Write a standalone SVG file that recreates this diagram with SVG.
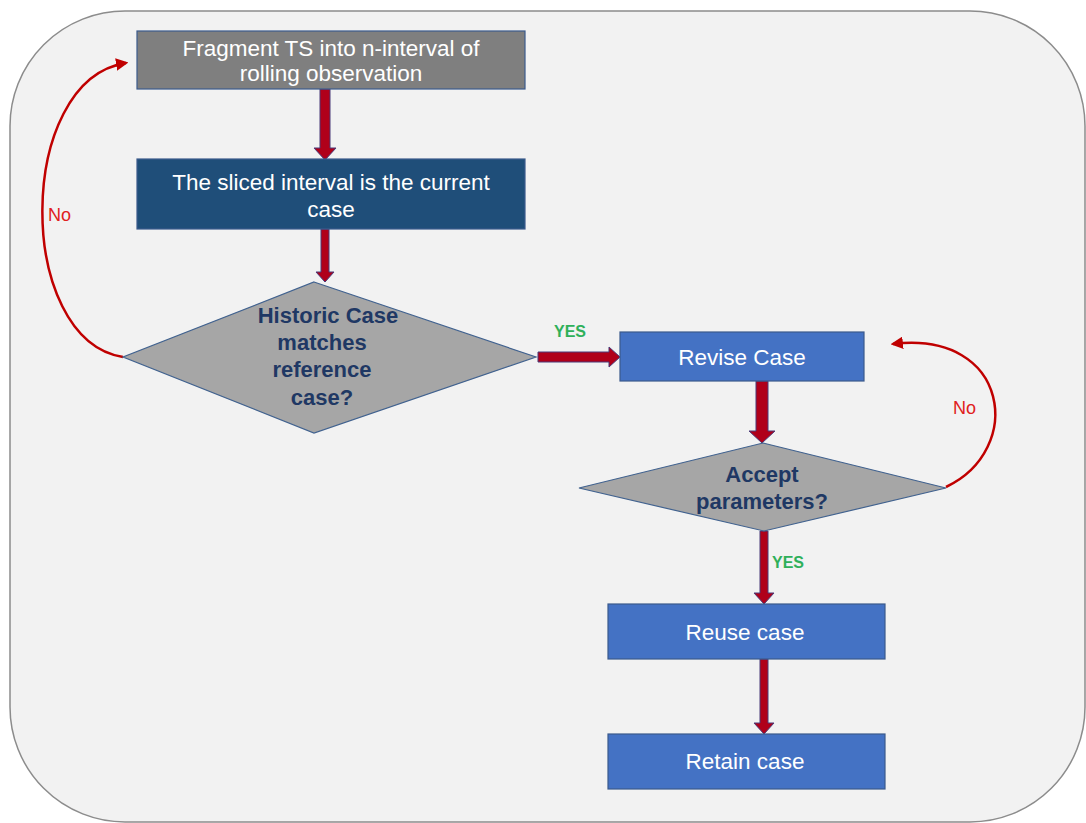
<svg xmlns="http://www.w3.org/2000/svg" width="1086" height="823" viewBox="0 0 1086 823">
<defs>
<style>
.bg{fill:#f2f2f2;stroke:#8c8c8c;stroke-width:1.5}
.box{stroke:#3b5a8c;stroke-width:1.2}
.wt{fill:#ffffff;font-family:"Liberation Sans",Arial,sans-serif;font-size:22.5px;text-anchor:middle}
.dt{fill:#1f3864;font-family:"Liberation Sans",Arial,sans-serif;font-size:22px;font-weight:bold;text-anchor:middle}
.dia{fill:#a6a6a6;stroke:#41628f;stroke-width:1.2}
.blk{fill:#b0001a;stroke:#4a3a78;stroke-width:1}
.loop{fill:none;stroke:#c00000;stroke-width:2.5}
.no{fill:#e02020;font-family:"Liberation Sans",Arial,sans-serif;font-size:18px}
.yes{fill:#2fb05a;font-family:"Liberation Sans",Arial,sans-serif;font-size:16px;font-weight:bold}
</style>
<marker id="ah" viewBox="0 0 10 10" refX="8" refY="5" markerWidth="5" markerHeight="5" orient="auto" markerUnits="strokeWidth">
<path d="M0,0 L10,5 L0,10 z" fill="#c00000"/>
</marker>
</defs>
<rect class="bg" x="10" y="11" width="1075" height="811" rx="115" ry="115"/>

<g id="connectors">
<polygon class="blk" points="320,89 330,89 330,148 336,148 325,160 314,148 320,148"/>
<polygon class="blk" points="321,229 329,229 329,272 334,272 325,282 316,272 321,272"/>
<polygon class="blk" points="538,352 609,352 609,347 620,357 609,367 609,362 538,362"/>
<polygon class="blk" points="756,381 768,381 768,431 775,431 762,443 749,431 756,431"/>
<polygon class="blk" points="760,531 768,531 768,593 774,593 764,604 754,593 760,593"/>
<polygon class="blk" points="760,659 768,659 768,723 774,723 764,734 754,723 760,723"/>
<path class="loop" d="M123,357 C 15,340 15,80 126,63" marker-end="url(#ah)"/>
<path class="loop" d="M946,487 C 1025,450 1010,330 893,344" marker-end="url(#ah)"/>
<text class="no" x="48" y="221">No</text>
<text class="no" x="953" y="414">No</text>
<text class="yes" x="554" y="337">YES</text>
<text class="yes" x="772" y="568">YES</text>
</g>

<g id="fragment">
<rect class="box" x="137" y="31" width="388" height="58" fill="#7f7f7f"/>
<text class="wt" x="331" y="56">Fragment TS into n-interval of</text>
<text class="wt" x="331" y="81">rolling observation</text>
</g>

<g id="sliced">
<rect class="box" x="137" y="159" width="388" height="70" fill="#1f4e79"/>
<text class="wt" x="331" y="190">The sliced interval is the current</text>
<text class="wt" x="331" y="217">case</text>
</g>

<g id="historic">
<polygon class="dia" points="314,282 536,357 314,433 123,357"/>
<text class="dt" x="328" y="323">Historic Case</text>
<text class="dt" x="322" y="350">matches</text>
<text class="dt" x="322" y="377">reference</text>
<text class="dt" x="322" y="405">case?</text>
</g>

<g id="revise">
<rect class="box" x="620" y="332" width="244" height="49" fill="#4472c4"/>
<text class="wt" x="742" y="365">Revise Case</text>
</g>

<g id="accept">
<polygon class="dia" points="763,443 946,488 764,531 579,488"/>
<text class="dt" x="762" y="482">Accept</text>
<text class="dt" x="762" y="509">parameters?</text>
</g>

<g id="reuse">
<rect class="box" x="608" y="604" width="277" height="55" fill="#4472c4"/>
<text class="wt" x="745" y="640">Reuse case</text>
</g>

<g id="retain">
<rect class="box" x="608" y="734" width="277" height="55" fill="#4472c4"/>
<text class="wt" x="745" y="769">Retain case</text>
</g>
</svg>
